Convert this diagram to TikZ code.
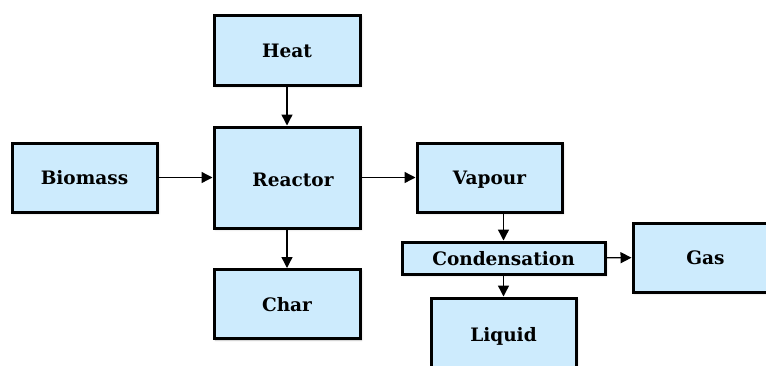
\documentclass[tikz,border=0pt]{standalone}
\usepackage{fontspec}
\setmainfont{DejaVu Serif}
\usetikzlibrary{arrows.meta,shadows.blur}
\definecolor{boxfill}{RGB}{205,235,253}
\tikzset{
  box/.style={draw=black, line width=3pt, fill=boxfill, inner sep=0pt,
    font=\fontsize{18.5}{20}\selectfont\bfseries, text height=15pt, text depth=1pt,
    blur shadow={shadow blur steps=5, shadow xshift=1.5pt, shadow yshift=-1.5pt, shadow opacity=25}},
  arr/.style={draw=black, line width=1.4pt, -{Triangle[length=11pt,width=11pt]}}
}
\begin{document}
\begin{tikzpicture}[x=1pt,y=-1pt]
\useasboundingbox (0,0) rectangle (766,365);
\node[box, minimum width=146pt, minimum height=70pt] (heat) at (287,50) {Heat};
\node[box, minimum width=146pt, minimum height=101pt, text height=19pt] (reactor) at (287,177.5) {\hspace*{12pt}Reactor};
\node[box, minimum width=146pt, minimum height=69pt] (char) at (287,304) {Char};
\node[box, minimum width=145pt, minimum height=69pt] (biomass) at (84.5,177.5) {Biomass};
\node[box, minimum width=145pt, minimum height=69pt] (vapour) at (489.5,177.5) {Vapour};
\node[box, minimum width=203pt, minimum height=32pt] (cond) at (503.5,258) {Condensation};
\node[box, minimum width=145pt, minimum height=69pt] (gas) at (705.5,257.5) {Gas};
\node[box, minimum width=145pt, minimum height=72pt] (liquid) at (503.5,334) {Liquid};
\draw[arr] (heat) -- (reactor);
\draw[arr] (reactor) -- (char);
\draw[arr] (biomass) -- (reactor);
\draw[arr] (reactor) -- (vapour);
\draw[arr] (vapour.south -| cond.north) -- (cond.north);
\draw[arr] (cond) -- (gas);
\draw[arr] (cond) -- (liquid);
\end{tikzpicture}
\end{document}
